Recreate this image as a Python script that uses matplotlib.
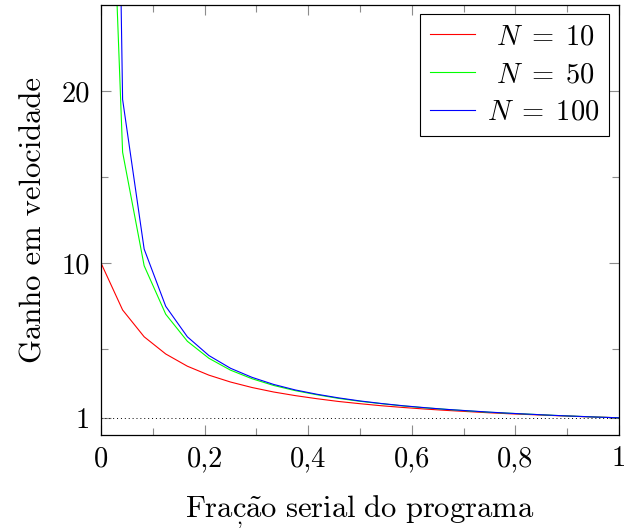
import matplotlib
matplotlib.use("Agg")
import matplotlib.pyplot as plt
from matplotlib.ticker import FixedLocator

plt.rcParams['font.family'] = ['cmr10', 'DejaVu Serif']
plt.rcParams['mathtext.fontset'] = 'cm'
plt.rcParams['axes.unicode_minus'] = False

# Serial fraction of the program (25 samples)
frac = [0.0, 0.0417, 0.0833, 0.125, 0.1667, 0.2083, 0.25, 0.2917, 0.3333,
        0.375, 0.4167, 0.4583, 0.5, 0.5417, 0.5833, 0.625, 0.6667, 0.7083,
        0.75, 0.7917, 0.8333, 0.875, 0.9167, 0.9583, 1.0]

speedup_n10 = [10.0, 7.27, 5.71, 4.71, 4.0, 3.48, 3.08, 2.76, 2.5, 2.29, 2.11,
               1.95, 1.82, 1.70, 1.6, 1.51, 1.43, 1.36, 1.29, 1.23, 1.18,
               1.13, 1.08, 1.04, 1.0]
speedup_n50 = [50.0, 16.44, 9.84, 7.02, 5.45, 4.46, 3.77, 3.27, 2.88, 2.58,
               2.34, 2.13, 1.96, 1.82, 1.69, 1.58, 1.49, 1.40, 1.32, 1.26,
               1.20, 1.14, 1.09, 1.04, 1.0]
speedup_n100 = [100.0, 19.51, 10.81, 7.48, 5.71, 4.62, 3.88, 3.35, 2.94, 2.62,
                2.37, 2.16, 1.98, 1.83, 1.70, 1.59, 1.49, 1.41, 1.33, 1.26,
                1.20, 1.14, 1.09, 1.04, 1.0]

labels = [r' $N\;=\;10$', r' $N\;=\;50$', r'$N\;=\;100$']
colors = ['#ff0000', '#00ff00', '#0000ff']

xticks = [0, 0.2, 0.4, 0.6, 0.8, 1.0]
xticklabels = ['0', '0,2', '0,4', '0,6', '0,8', '1']
yticks = [1, 10, 20]
yticklabels = ['1', '10', '20']

xlabel = r'$\mathrm{Fra\underset{,}{c}\tilde{a}o\ serial\ do\ programa}$'
ylabel = 'Ganho em velocidade'

fig = plt.figure(figsize=(6.24, 5.28), dpi=100)
ax = fig.add_axes([101/624, 1 - 435/528, 518/624, 430/528])

for ys, lab, c in zip([speedup_n10, speedup_n50, speedup_n100], labels, colors):
    ax.plot(frac, ys, color=c, lw=0.8, label=lab, clip_on=True)

ax.plot([0, 1], [1, 1], color='black', lw=0.7, linestyle=(0, (1, 3)))

ax.set_xlim(0, 1)
ax.set_ylim(0, 25)
ax.set_xticks(xticks)
ax.set_xticklabels(xticklabels)
ax.set_yticks(yticks)
ax.set_yticklabels(yticklabels)
ax.xaxis.set_minor_locator(FixedLocator([0.1, 0.3, 0.5, 0.7, 0.9]))
ax.yaxis.set_minor_locator(FixedLocator([5, 15]))

ax.tick_params(which='both', direction='in', top=True, right=True,
               color='#8c8c8c', width=0.8, labelsize=20.5, pad=8)
ax.tick_params(which='major', length=7.5)
ax.tick_params(which='minor', length=5)
for s in ax.spines.values():
    s.set_linewidth(0.9)
    s.set_color('black')

ax.set_xlabel(xlabel, fontsize=22, labelpad=15)
ax.set_ylabel(ylabel, fontsize=22, labelpad=10)

leg = ax.legend(loc='upper right', bbox_to_anchor=(0.9807, 0.979),
                borderaxespad=0, fancybox=False, edgecolor='black',
                fontsize=20.5, handlelength=1.6, handletextpad=0.4,
                labelspacing=0.4, borderpad=0.35, framealpha=1)
leg.get_frame().set_linewidth(0.8)

fig.savefig('out.png', dpi=100)
